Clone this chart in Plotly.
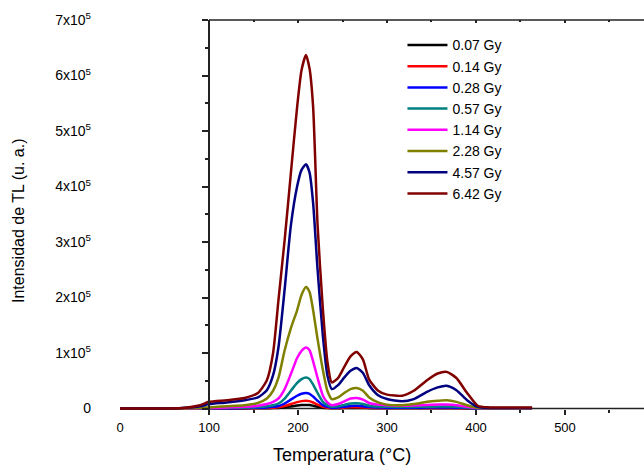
import plotly.graph_objects as go

# Temperature grid (°C) shared by all glow curves
temperature = [0, 40, 70, 90, 100, 120, 140, 155, 165, 172, 178, 185, 192, 199, 204, 209,
               213, 217, 222, 228, 233, 238, 245, 252, 259, 266, 273, 280, 290, 300, 317,
               330, 345, 357, 367, 378, 390, 402, 415, 430, 463]

# TL intensity (x 10^3 a.u.) for each absorbed dose
tl_007 = [0, 0, 0, 0.05, 0.07, 0.12, 0.2, 0.3, 0.5, 0.7, 1.1, 2.1, 3.7, 5.3, 6.2, 6.5,
          6.2, 5, 3.3, 1.4, 0.7, 0.4, 0.5, 0.8, 1, 1.1, 0.9, 0.6, 0.4, 0.4, 0.3,
          0.3, 0.4, 0.4, 0.4, 0.4, 0.2, 0.05, 0.02, 0.02, 0.02]
tl_014 = [0, 0, 0, 0.1, 0.15, 0.25, 0.4, 0.7, 1, 1.5, 2.3, 4.5, 8, 11.5, 13.3, 14,
          13.3, 10.8, 7, 3, 1.5, 0.8, 1, 1.6, 2.2, 2.4, 2, 1.3, 0.9, 0.8, 0.7,
          0.7, 0.8, 0.9, 0.9, 0.8, 0.4, 0.1, 0.05, 0.05, 0.05]
tl_028 = [0, 0, 0, 0.2, 0.3, 0.5, 0.8, 1.3, 2, 3, 4.5, 9, 16, 23, 26.5, 28,
          26.5, 21.5, 14, 6, 3, 1.5, 2, 3.2, 4.5, 4.8, 4, 2.5, 1.8, 1.5, 1.3,
          1.4, 1.6, 1.8, 1.8, 1.5, 0.8, 0.2, 0.1, 0.1, 0.1]
tl_057 = [0, 0, 0, 0.3, 0.5, 1, 1.5, 2.5, 4, 6, 9, 18, 32, 46, 53, 56,
          53, 43, 28, 12, 6, 3, 4, 6.5, 9, 9.5, 8, 5, 3.5, 3, 2.5,
          2.8, 3.2, 3.5, 3.5, 3, 1.5, 0.5, 0.2, 0.2, 0.2]
tl_114 = [0, 0, 0, 0.5, 1, 2, 3, 5, 8, 12, 18, 35, 62, 91, 104, 110,
          105, 85, 55, 23, 11, 6, 8, 13, 18, 19, 16, 10, 7, 6, 5,
          5.5, 6.5, 7, 7, 6, 3, 1, 0.3, 0.3, 0.3]
tl_228 = [0, 0, 0, 1, 2, 4, 6, 10, 18, 32, 55, 105, 145, 177, 205, 219,
          210, 177, 125, 69, 32, 17, 20, 28, 35, 37, 32, 20, 11, 7, 6,
          8, 12, 14, 15, 12, 6, 1.5, 0.5, 0.5, 0.5]
tl_457 = [0, 0, 1, 4, 8, 11, 15, 20, 33, 60, 110, 215, 330, 400, 430, 440,
          425, 370, 250, 130, 60, 35, 42, 56, 68, 73, 64, 42, 24, 17, 13,
          17, 30, 38, 41, 33, 15, 3, 1, 1, 1]
tl_642 = [0, 0, 1, 6, 12, 15, 19, 28, 51, 100, 195, 304, 424, 543, 610, 637,
          612, 543, 330, 178, 85, 47, 55, 75, 94, 102, 88, 52, 32, 25, 23,
          32, 51, 63, 66, 55, 28, 5, 2, 2, 2]

dose_labels = ["0.07 Gy", "0.14 Gy", "0.28 Gy", "0.57 Gy",
               "1.14 Gy", "2.28 Gy", "4.57 Gy", "6.42 Gy"]
series = [tl_007, tl_014, tl_028, tl_057, tl_114, tl_228, tl_457, tl_642]
colors = ["#000000", "#FF0000", "#0000FF", "#008080",
          "#FF00FF", "#808000", "#000080", "#800000"]

y_tickvals = [0, 1e5, 2e5, 3e5, 4e5, 5e5, 6e5, 7e5]
y_ticktext = ["0"] + [f"{i}x10<sup>5</sup>" for i in range(1, 8)]
x_tickvals = [0, 100, 200, 300, 400, 500]

X_RANGE = [-22.5, 588.8]
Y_RANGE = [-4500, 7e5]
FONT = "Liberation Sans, Arial, sans-serif"
FRAME = "#222222"

fig = go.Figure()
for label, vals, col in zip(dose_labels, series, colors):
    fig.add_trace(go.Scatter(
        x=temperature, y=[v * 1e3 for v in vals], mode="lines", name=label,
        line=dict(color=col, width=2.5, shape="spline", smoothing=0.6),
    ))

fig.update_layout(
    width=644, height=465,
    margin=dict(l=100, r=0, t=20, b=54),
    plot_bgcolor="white", paper_bgcolor="white",
    font=dict(family=FONT, color="#000000"),
    showlegend=True,
    legend=dict(x=0.556, y=0.976, xanchor="left", yanchor="top",
                bgcolor="rgba(0,0,0,0)", font=dict(size=14, family=FONT),
                itemwidth=40, tracegroupgap=0),
    # tick labels at the left/bottom edges of the plot area
    xaxis=dict(range=X_RANGE, tickvals=x_tickvals, ticks="", showline=False,
               showgrid=False, zeroline=False, tickfont=dict(size=13),
               ticklabelstandoff=7),
    yaxis=dict(range=Y_RANGE, tickvals=y_tickvals, ticktext=y_ticktext, ticks="",
               showline=False, showgrid=False, zeroline=False,
               tickfont=dict(size=14), ticklabelstandoff=8),
    # frame axis crossing at 100 °C carrying the y ticks
    yaxis2=dict(overlaying="y", anchor="free", position=109 / 544, range=Y_RANGE,
                showline=True, linecolor=FRAME, linewidth=2,
                ticks="outside", ticklen=6, tickwidth=1.5, tickcolor=FRAME,
                tickvals=y_tickvals, showticklabels=False, showgrid=False,
                zeroline=False,
                minor=dict(tickvals=[0.5e5, 1.5e5, 2.5e5, 3.5e5, 4.5e5, 5.5e5, 6.5e5],
                           ticks="outside", ticklen=3, tickwidth=1.5,
                           tickcolor=FRAME)),
    # bottom ticks hanging from the zero line
    xaxis2=dict(overlaying="x", anchor="free", position=2.5 / 391, range=X_RANGE,
                ticks="outside", ticklen=5, tickwidth=1.5, tickcolor=FRAME,
                tickvals=[100, 200, 300, 400, 500], showticklabels=False,
                showline=False, showgrid=False, zeroline=False,
                minor=dict(tickvals=[150, 250, 350, 450, 550], ticks="outside",
                           ticklen=3, tickwidth=1.5, tickcolor=FRAME)),
    # top frame ticks
    xaxis3=dict(overlaying="x", side="top", anchor="y", range=X_RANGE,
                ticks="inside", ticklen=3, tickwidth=1.5, tickcolor=FRAME,
                tickvals=[100, 200, 300, 400, 500], showticklabels=False,
                showline=False, showgrid=False, zeroline=False,
                minor=dict(tickvals=[150, 250, 350, 450, 550], ticks="inside",
                           ticklen=2, tickwidth=1.5, tickcolor=FRAME)),
)

# invisible helpers so the overlay axes are drawn
fig.add_trace(go.Scatter(x=[None], y=[None], xaxis="x2", yaxis="y2",
                         showlegend=False, hoverinfo="skip"))
fig.add_trace(go.Scatter(x=[None], y=[None], xaxis="x3", yaxis="y",
                         showlegend=False, hoverinfo="skip"))

# frame lines starting at the 100 °C axis
fig.add_shape(type="line", xref="x", yref="y", x0=100, x1=X_RANGE[1], y0=0, y1=0,
              line=dict(color=FRAME, width=1.5), layer="below")
fig.add_shape(type="line", xref="x", yref="paper", x0=100, x1=X_RANGE[1], y0=1, y1=1,
              line=dict(color=FRAME, width=1.5))

fig.add_annotation(text="Temperatura (°C)", xref="paper", yref="paper",
                   x=(342 - 100) / 544, y=-(455 - 411) / 391, showarrow=False,
                   font=dict(size=18, family=FONT), xanchor="center", yanchor="middle")
fig.add_annotation(text="Intensidad de TL (u. a.)", xref="paper", yref="paper",
                   x=-(100 - 18) / 544, y=(411 - 221) / 391, showarrow=False,
                   textangle=-90, font=dict(size=16, family=FONT),
                   xanchor="center", yanchor="middle")

fig.write_html("out.html")
